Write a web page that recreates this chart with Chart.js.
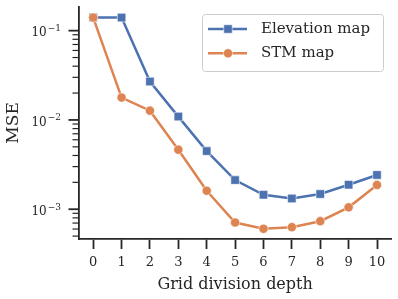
<!DOCTYPE html>
<html>
<head>
<script src="https://cdn.jsdelivr.net/npm/chart.js@4"></script>
<style>
    html, body {
        margin: 0px;
        background-color: #ffffff;
    }
    #chartContainer {
        width: 398px;
        height: 299px;
    }
</style>
</head>
<body>
<div id="chartContainer">
    <canvas id="mainChart"></canvas>
</div>
<script>
    const depths = [0, 1, 2, 3, 4, 5, 6, 7, 8, 9, 10];
    const elevationMse = [0.1405, 0.140, 0.0269, 0.0109, 0.00448, 0.00212, 0.00145, 0.00132, 0.00148, 0.00188, 0.00242];
    const stmMse = [0.140, 0.0178, 0.0127, 0.00464, 0.00161, 0.00071, 0.000604, 0.00063, 0.000734, 0.00105, 0.00187];
    const yDecades = [-4, -3, -2, -1];
    const yLabelDecades = [-3, -2, -1];

    const ink = '#262626';
    const serif = 'DejaVu Serif';

    // log ticks drawn by hand: long major ticks, short minor ticks, 10^n labels
    const logTicks = {
        id: 'logTicks',
        afterDraw(chart) {
            const ctx = chart.ctx;
            const y = chart.scales.y;
            const x0 = chart.chartArea.left;
            ctx.save();
            ctx.strokeStyle = ink;
            yDecades.forEach(d => {
                for (let m = 1; m <= 9; m++) {
                    const v = m * Math.pow(10, d);
                    if (v < y.min || v > y.max) continue;
                    const py = y.getPixelForValue(v);
                    ctx.lineWidth = m == 1 ? 1.8 : 1.2;
                    const len = m == 1 ? 10.5 : 6.5;
                    ctx.beginPath();
                    ctx.moveTo(x0 - len, py);
                    ctx.lineTo(x0, py);
                    ctx.stroke();
                }
            });
            ctx.fillStyle = ink;
            yLabelDecades.forEach(d => {
                const py = y.getPixelForValue(Math.pow(10, d));
                const sup = '\u2212' + Math.abs(d);
                ctx.font = '9px "' + serif + '"';
                const supW = ctx.measureText(sup).width;
                const right = x0 - 18;
                ctx.textAlign = 'left';
                ctx.textBaseline = 'alphabetic';
                ctx.fillText(sup, right - supW, py + 0.5);
                ctx.font = '12px "' + serif + '"';
                ctx.textAlign = 'right';
                ctx.fillText('10', right - supW - 1, py + 5.7);
            });
            ctx.restore();
        }
    };

    // legend box with line + marker samples
    const boxLegend = {
        id: 'boxLegend',
        afterDraw(chart) {
            const ctx = chart.ctx;
            ctx.save();
            ctx.beginPath();
            ctx.roundRect(202.5, 14.5, 181, 57, 3);
            ctx.fillStyle = 'rgba(255,255,255,0.8)';
            ctx.fill();
            ctx.strokeStyle = '#cccccc';
            ctx.lineWidth = 1;
            ctx.stroke();
            chart.data.datasets.forEach((ds, i) => {
                const cy = 29 + i * 24.3;
                ctx.strokeStyle = ds.borderColor;
                ctx.lineWidth = ds.borderWidth;
                ctx.beginPath();
                ctx.moveTo(208, cy);
                ctx.lineTo(247, cy);
                ctx.stroke();
                ctx.fillStyle = ds.pointBackgroundColor;
                ctx.strokeStyle = ds.pointBorderColor;
                ctx.lineWidth = ds.pointBorderWidth;
                Chart.helpers.drawPoint(ctx, {pointStyle: ds.pointStyle, radius: ds.pointRadius, borderWidth: ds.pointBorderWidth}, 228, cy);
                ctx.fillStyle = ink;
                ctx.font = '15px "' + serif + '"';
                ctx.textAlign = 'left';
                ctx.textBaseline = 'middle';
                ctx.fillText(ds.label, 261, cy);
            });
            ctx.restore();
        }
    };

    const ctx = document.getElementById('mainChart');
    new Chart(ctx, {
        type: 'line',
        data: {
            datasets: [{
                label: 'Elevation map',
                data: depths.map((d, i) => ({x: d, y: elevationMse[i]})),
                borderColor: '#4C72B0',
                backgroundColor: '#4C72B0',
                pointBackgroundColor: '#4C72B0',
                pointBorderColor: 'rgba(255,255,255,0.7)',
                pointBorderWidth: 0.8,
                pointStyle: 'rect',
                pointRadius: 6,
                borderWidth: 2.5,
                tension: 0,
                order: 2
            }, {
                label: 'STM map',
                data: depths.map((d, i) => ({x: d, y: stmMse[i]})),
                borderColor: '#DD8452',
                backgroundColor: '#DD8452',
                pointBackgroundColor: '#DD8452',
                pointBorderColor: 'rgba(255,255,255,0.7)',
                pointBorderWidth: 0.8,
                pointStyle: 'circle',
                pointRadius: 4.6,
                borderWidth: 2.5,
                tension: 0,
                order: 1
            }]
        },
        options: {
            responsive: true,
            maintainAspectRatio: false,
            animation: false,
            layout: {padding: {top: 5, right: 5, left: 0, bottom: 0}},
            plugins: {
                legend: {display: false},
                tooltip: {enabled: false}
            },
            scales: {
                x: {
                    type: 'linear',
                    min: -0.5,
                    max: 10.5,
                    afterBuildTicks: s => { s.ticks = depths.map(v => ({value: v})); },
                    afterFit: s => { s.height = 60; },
                    grid: {
                        display: true,
                        drawOnChartArea: false,
                        drawTicks: true,
                        tickLength: 10,
                        tickWidth: 1.8,
                        tickColor: ink
                    },
                    border: {display: true, color: ink, width: 1.8},
                    ticks: {
                        color: ink,
                        padding: 6,
                        font: {family: serif, size: 13}
                    },
                    title: {
                        display: true,
                        text: 'Grid division depth',
                        color: ink,
                        font: {family: serif, size: 16},
                        padding: {top: 4.4, bottom: 4.4}
                    }
                },
                y: {
                    type: 'logarithmic',
                    min: 0.000464,
                    max: 0.185,
                    afterFit: s => { s.width = 79; },
                    grid: {display: false},
                    border: {display: true, color: ink, width: 1.8},
                    ticks: {display: false},
                    title: {
                        display: true,
                        text: 'MSE',
                        color: ink,
                        font: {family: serif, size: 17},
                        padding: {top: 3, bottom: 3}
                    }
                }
            }
        },
        plugins: [logTicks, boxLegend]
    });
</script>
</body>
</html>
